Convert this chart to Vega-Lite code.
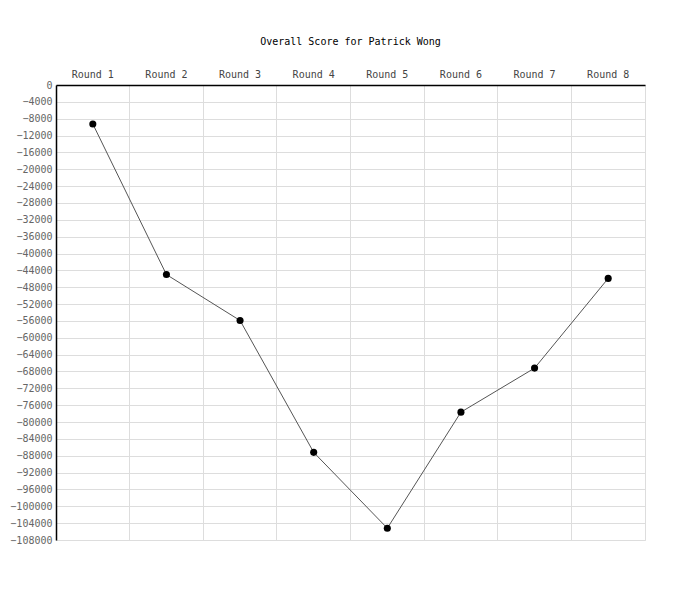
{
  "$schema": "https://vega.github.io/schema/vega-lite/v6.json",
  "width": 589,
  "height": 455,
  "autosize": "none",
  "padding": {"left": 56, "top": 85, "right": 55, "bottom": 60},
  "background": "white",
  "title": {
    "text": "Overall Score for Patrick Wong",
    "font": "DejaVu Sans Mono",
    "fontSize": 10,
    "fontWeight": "normal",
    "color": "black",
    "anchor": "middle",
    "offset": 22
  },
  "data": {
    "values": [
      {"round": "Round 1", "score": -9250},
      {"round": "Round 2", "score": -45000},
      {"round": "Round 3", "score": -55900},
      {"round": "Round 4", "score": -87200},
      {"round": "Round 5", "score": -105200},
      {"round": "Round 6", "score": -77650},
      {"round": "Round 7", "score": -67200},
      {"round": "Round 8", "score": -45900}
    ]
  },
  "config": {
    "view": {"stroke": "#dddddd"},
    "axis": {
      "labelFont": "DejaVu Sans Mono",
      "labelFontSize": 10,
      "gridColor": "#dddddd",
      "gridOpacity": 1,
      "ticks": false,
      "domainColor": "black",
      "domainWidth": 1.5,
      "labelOverlap": false
    }
  },
  "resolve": {"axis": {"x": "independent"}},
  "encoding": {
    "y": {
      "field": "score",
      "type": "quantitative",
      "scale": {"domain": [-108000, 0], "nice": false, "zero": false},
      "axis": {
        "title": null,
        "labelColor": "#666666",
        "labelPadding": 4,
        "labelOverlap": false,
        "grid": true,
        "values": [0, -4000, -8000, -12000, -16000, -20000, -24000, -28000, -32000, -36000, -40000, -44000, -48000, -52000, -56000, -60000, -64000, -68000, -72000, -76000, -80000, -84000, -88000, -92000, -96000, -100000, -104000, -108000],
        "format": "d"
      }
    }
  },
  "layer": [
    {
      "mark": {"type": "line", "color": "#555555", "strokeWidth": 1},
      "encoding": {
        "x": {
          "field": "round",
          "type": "ordinal",
          "scale": {"type": "band", "paddingInner": 0, "paddingOuter": 0},
          "axis": {
            "orient": "bottom",
            "title": null,
            "labels": false,
            "domain": false,
            "grid": true,
            "bandPosition": 0
          }
        }
      }
    },
    {
      "mark": {"type": "point", "filled": true, "color": "black", "opacity": 1, "size": 50},
      "encoding": {
        "x": {
          "field": "round",
          "type": "ordinal",
          "scale": {"type": "band", "paddingInner": 0, "paddingOuter": 0},
          "axis": {
            "orient": "top",
            "title": null,
            "labelAngle": 0,
            "labelColor": "#444444",
            "labelPadding": 6,
            "grid": false
          }
        }
      }
    }
  ]
}
